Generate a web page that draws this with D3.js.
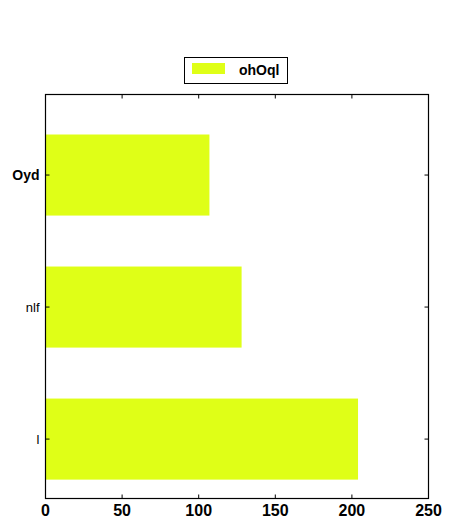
<!DOCTYPE html>
<html><head><meta charset="utf-8">
<script src="https://cdn.jsdelivr.net/npm/d3@7"></script>
<style>body{margin:0;background:#fff}</style>
</head><body>
<svg id="c" width="456" height="532"></svg>
<script>
const categories = ["l", "nlf", "Oyd"];
const values = [204, 128, 107];
const xTicks = [0, 50, 100, 150, 200, 250];
const seriesName = "ohOql";
const color = "#dfff17";

const svg = d3.select("#c");
const L = 45.5, R = 428.5, T = 94.5, B = 498.5;
const x = d3.scaleLinear().domain([0, 250]).range([L, R]);
const y = d3.scaleLinear().domain([-0.45, 2.61]).range([B, T]);
const bh = 0.307;
const font = "'Liberation Sans', Arial, sans-serif";

svg.selectAll("rect.bar").data(values).enter().append("rect")
  .attr("class", "bar")
  .attr("x", x(0))
  .attr("y", (d, i) => y(i + bh))
  .attr("width", d => x(d) - x(0))
  .attr("height", (d, i) => y(i - bh) - y(i + bh))
  .attr("fill", color);

// inward ticks
const tl = 4;
const g = svg.append("g").attr("stroke", "#000").attr("stroke-width", 1);
xTicks.forEach(t => {
  g.append("line").attr("x1", x(t)).attr("x2", x(t)).attr("y1", B).attr("y2", B - tl);
  g.append("line").attr("x1", x(t)).attr("x2", x(t)).attr("y1", T).attr("y2", T + tl);
});
categories.forEach((c, i) => {
  g.append("line").attr("x1", L).attr("x2", L + tl).attr("y1", y(i)).attr("y2", y(i));
  g.append("line").attr("x1", R).attr("x2", R - tl).attr("y1", y(i)).attr("y2", y(i));
});

svg.append("rect").attr("x", L).attr("y", T).attr("width", R - L).attr("height", B - T)
  .attr("fill", "none").attr("stroke", "#000").attr("stroke-width", 1.2);

svg.selectAll("text.xt").data(xTicks).enter().append("text")
  .attr("class", "xt")
  .attr("x", d => x(d)).attr("y", B + 17)
  .attr("text-anchor", "middle")
  .attr("font-family", font).attr("font-weight", "bold").attr("font-size", 16)
  .text(d => d);

svg.selectAll("text.yt").data(categories).enter().append("text")
  .attr("class", "yt")
  .attr("x", L - 6).attr("y", (d, i) => y(i))
  .attr("dy", "0.35em")
  .attr("text-anchor", "end")
  .attr("font-family", font)
  .attr("font-weight", d => d === "Oyd" ? "bold" : "normal")
  .attr("font-size", d => d === "Oyd" ? 14 : 13)
  .text(d => d);

// legend
const lg = svg.append("g");
lg.append("rect").attr("x", 184.5).attr("y", 57.5).attr("width", 103).attr("height", 26)
  .attr("fill", "#fff").attr("stroke", "#000").attr("stroke-width", 1);
lg.append("rect").attr("x", 192).attr("y", 63).attr("width", 33).attr("height", 11).attr("fill", color);
lg.append("text").attr("x", 239).attr("y", 75)
  .attr("font-family", font).attr("font-weight", "bold").attr("font-size", 14)
  .text(seriesName);
</script>
</body></html>
